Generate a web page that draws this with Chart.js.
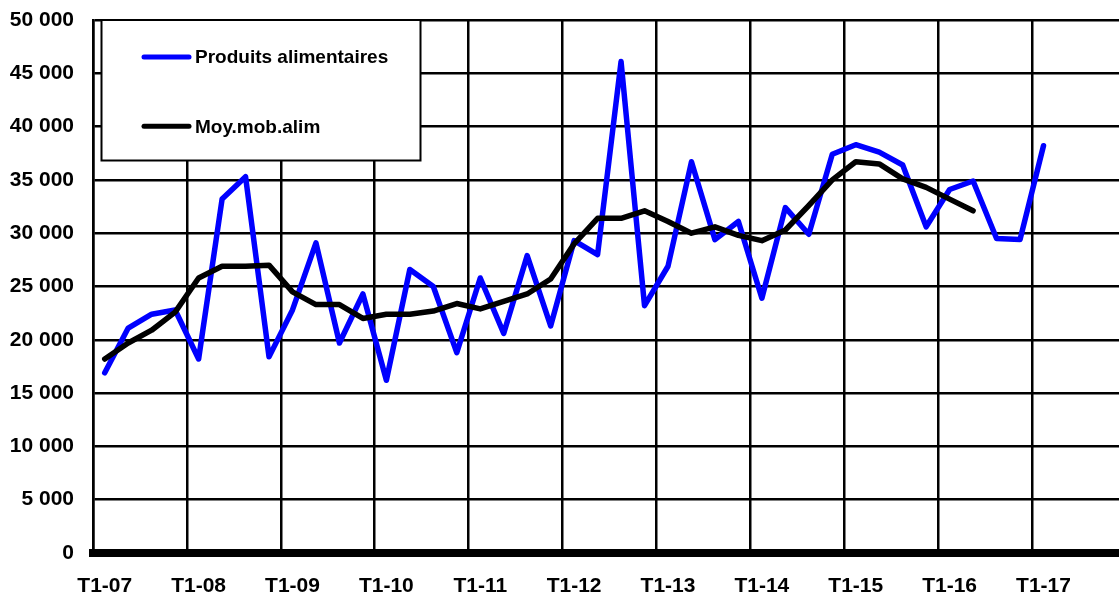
<!DOCTYPE html>
<html>
<head>
<meta charset="utf-8">
<script src="https://cdn.jsdelivr.net/npm/chart.js@4.4.1/dist/chart.umd.min.js"></script>
<style>
html,body{margin:0;padding:0;overflow:hidden;background:#fff;}
#wrap{position:relative;width:1135px;height:593px;}
</style>
</head>
<body>
<div id="wrap"><canvas id="c"></canvas></div>
<script>
// ---- data ----
const years = ['07','08','09','10','11','12','13','14','15','16','17'];
const quarters = ['T1','T2','T3','T4'];
const categories = [];
years.forEach(y => quarters.forEach(q => categories.push(q + '-' + y)));

const seriesNames = ['Produits alimentaires', 'Moy.mob.alim'];

const produitsAlimentaires = [
  16900, 21100, 22400, 22800, 18200, 33200, 35300, 18400,
  22800, 29100, 19700, 24300, 16200, 26600, 25000, 18800,
  25800, 20600, 27900, 21300, 29300, 28000, 46100, 23200,
  26900, 36700, 29400, 31100, 23900, 32400, 29900, 37400,
  38300, 37600, 36400, 30600, 34100, 34900, 29500, 29400,
  38200
];

const moyMobAlim = [
  18200, 19700, 20900, 22600, 25800, 26900, 26900, 27000,
  24500, 23300, 23300, 22000, 22400, 22400, 22700, 23400,
  22900, 23600, 24300, 25700, 29000, 31400, 31400, 32100,
  31100, 30000, 30600, 29800, 29300, 30300, 32600, 35000,
  36700, 36500, 35100, 34300, 33200, 32100
];

const yMin = 0, yMax = 50000, yStep = 5000;

// ---- helpers ----
const FONT = '"Liberation Sans", Arial, Helvetica, sans-serif';
function fmt(v) {
  return String(v).replace(/\B(?=(\d{3})+(?!\d))/g, ' ');
}

const legendBox = {
  id: 'legendBox',
  afterDatasetsDraw(chart) {
    const { ctx, chartArea } = chart;
    const x0 = chartArea.left + 8.5, y0 = chartArea.top;
    const w = 319, h = 140.5;
    ctx.save();
    ctx.fillStyle = '#fff';
    ctx.fillRect(x0, y0, w, h);
    ctx.lineWidth = 2;
    ctx.strokeStyle = '#000';
    ctx.strokeRect(x0, y0, w, h);
    const rows = [37, 106.3];
    chart.data.datasets.forEach((ds, i) => {
      const y = y0 + rows[i];
      ctx.beginPath();
      ctx.lineWidth = 5;
      ctx.lineCap = 'round';
      ctx.strokeStyle = ds.borderColor;
      ctx.moveTo(x0 + 42.5, y);
      ctx.lineTo(x0 + 87.5, y);
      ctx.stroke();
      ctx.fillStyle = '#000';
      ctx.font = 'bold 19px ' + FONT;
      ctx.textBaseline = 'middle';
      ctx.textAlign = 'left';
      ctx.fillText(ds.label, x0 + 93.5, y + 1);
    });
    ctx.restore();
  }
};

new Chart(document.getElementById('c'), {
  type: 'line',
  data: {
    labels: categories,
    datasets: [
      {
        label: seriesNames[0],
        data: produitsAlimentaires,
        borderColor: '#0000ff',
        backgroundColor: '#0000ff',
        borderWidth: 5.5,
        pointRadius: 0,
        tension: 0,
        fill: false,
        borderJoinStyle: 'round',
        borderCapStyle: 'round',
        order: 2
      },
      {
        label: seriesNames[1],
        data: moyMobAlim,
        borderColor: '#000000',
        backgroundColor: '#000000',
        borderWidth: 5.5,
        pointRadius: 0,
        tension: 0,
        fill: false,
        borderJoinStyle: 'round',
        borderCapStyle: 'round',
        order: 1
      }
    ]
  },
  options: {
    responsive: true,
    maintainAspectRatio: false,
    animation: false,
    layout: { padding: { top: 20, right: 8, left: 0, bottom: 0 } },
    plugins: {
      legend: { display: false },
      tooltip: { enabled: false }
    },
    scales: {
      x: {
        type: 'category',
        offset: true,
        grid: {
          offset: true,
          drawTicks: false,
          lineWidth: 2.5,
          color: (ctx) => (ctx.index % 4 === 0 ? '#000' : 'rgba(0,0,0,0)')
        },
        border: { display: true, color: '#000', width: 8 },
        ticks: {
          autoSkip: false,
          maxRotation: 0,
          minRotation: 0,
          padding: 21,
          color: '#000',
          font: { family: FONT, size: 21, weight: 'bold' },
          callback: function (v, i) { return i % 4 === 0 ? this.getLabelForValue(v) : ''; }
        },
        afterFit: (s) => { s.height = 40; }
      },
      y: {
        min: yMin,
        max: yMax,
        grid: {
          color: '#000',
          lineWidth: 2.5,
          drawTicks: true,
          tickLength: 19,
          tickColor: 'rgba(0,0,0,0)'
        },
        border: { display: true, color: '#000', width: 2.5 },
        ticks: {
          stepSize: yStep,
          padding: 0,
          color: '#000',
          font: { family: FONT, size: 21, weight: 'bold' },
          callback: (v) => fmt(v)
        },
        afterFit: (s) => { s.width = 93; }
      }
    }
  },
  plugins: [legendBox]
});
</script>
</body>
</html>
